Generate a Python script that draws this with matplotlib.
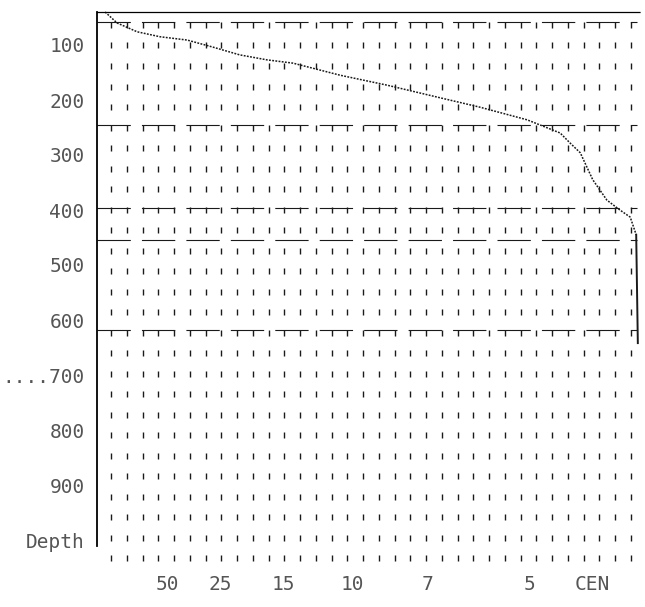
import numpy as np
import matplotlib
matplotlib.use("Agg")
import matplotlib.pyplot as plt

# depth axis labels
depth_ticks = [100, 200, 300, 400, 500, 600, 700, 800, 900, 1000]
depth_labels = ["100", "200", "300", "400", "500", "600", "....700", "800", "900", "Depth"]

# horizontal scale (arbitrary units 0-100 across the frame)
x_ticks = [12.9, 22.7, 34.3, 47.1, 60.8, 79.6, 91.2]
x_labels = ["50", "25", "15", "10", "7", "5", "CEN"]

# traced curve
curve_x = [1.5, 3.7, 7.4, 11.6, 16.6, 21.4, 26.3, 31.3, 36.1, 44.8, 53.4, 63.2,
           70.5, 79.2, 85.3, 87.1, 89.0, 91.3, 93.9, 96.3, 98.2, 99.3, 99.6]
curve_depth = [40, 60, 76, 85, 91, 104, 118, 127, 133, 155, 173, 196,
               213, 236, 260, 278, 296, 345, 382, 400, 413, 445, 642]

# dashed horizontal marker lines
band_depths = [58, 245, 396, 455, 618]

fig = plt.figure(figsize=(6.45, 6.07), dpi=100)
ax = fig.add_axes([97 / 645, 1 - 562 / 607, (640 - 97) / 645, (562 - 12) / 607])
ax.set_xlim(0, 100)
ax.set_ylim(1040, 40)

# background dot grid (short vertical ticks)
gx = 2.6 + 2.9 * np.arange(34)
gy = 63.6 + 37.3 * np.arange(27)
GX, GY = np.meshgrid(gx, gy)
ax.plot(GX.ravel(), GY.ravel(), ls="none", marker="|", ms=4, mew=1.0,
        color="#1a1a1a", clip_on=False)

for d in band_depths:
    ax.plot([0, 99.5], [d, d], color="#1a1a1a", lw=0.8, ls=(0, (30, 10)))

ax.plot(curve_x[:-1], curve_depth[:-1], color="#1a1a1a", lw=1.1,
        ls=(0, (1.2, 0.9)), clip_on=False)
# steep right-hand segment reads as a solid stroke
ax.plot(curve_x[-2:], curve_depth[-2:], color="#1a1a1a", lw=1.4, clip_on=False)

for s in ["right", "bottom"]:
    ax.spines[s].set_visible(False)
ax.spines["left"].set_linewidth(1.3)
ax.spines["left"].set_bounds(40, 1010)
ax.spines["top"].set_linewidth(0.9)
ax.spines["top"].set_linestyle((0, (2, 1)))

ax.set_yticks(depth_ticks)
ax.set_yticklabels(depth_labels)
ax.set_xticks(x_ticks)
ax.set_xticklabels(x_labels)
ax.tick_params(length=0, labelsize=14, labelcolor="#555555")
ax.tick_params(axis="y", pad=9)
ax.tick_params(axis="x", pad=9)
for lab in ax.get_xticklabels() + ax.get_yticklabels():
    lab.set_family("DejaVu Sans Mono")

fig.savefig("out.png", dpi=100)
